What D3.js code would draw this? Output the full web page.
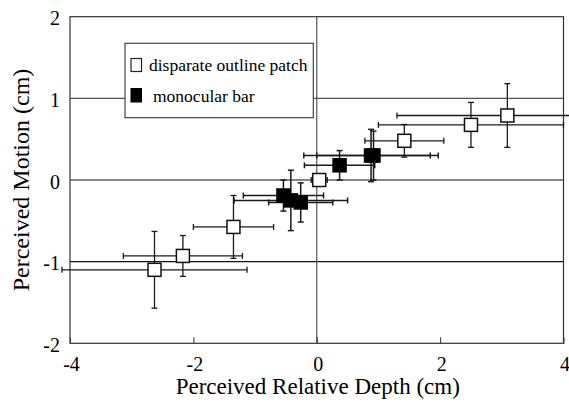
<!DOCTYPE html>
<html><head><meta charset="utf-8">
<script src="https://cdn.jsdelivr.net/npm/d3@7"></script>
<style>body{margin:0;background:#fff}svg{display:block}</style>
</head><body>
<svg id="c" width="569" height="406"></svg>
<script>
// Disparate outline patch (open squares)
const patchX    = [-2.63, -2.17, -1.35, 0.04, 1.42, 2.50, 3.09];
const patchY    = [-1.10, -0.93, -0.575, 0.00, 0.48, 0.675, 0.79];
const patchXErr = [1.50, 0.965, 0.65, 0.13, 0.64, 1.50, 1.79];
const patchYErr = [0.47, 0.25, 0.385, 0.04, 0.20, 0.275, 0.39];
// Monocular bar (filled squares)
const barX    = [-0.54, -0.42, -0.26, 0.37, 0.88, 0.92];
const barY    = [-0.19, -0.25, -0.275, 0.18, 0.30, 0.30];
const barXErr = [0.65, 0.92, 0.52, 0.57, 1.09, 0.92];
const barYErr = [0.19, 0.37, 0.24, 0.18, 0.32, 0.30];

const xTicks = [-4, -2, 0, 2, 4];
const yTicks = [-2, -1, 0, 1, 2];
const xTitle = "Perceived Relative Depth (cm)";
const yTitle = "Perceived Motion (cm)";
const legendLabels = ["disparate outline patch", "monocular bar"];

const FONT = '"Liberation Serif"';
const svg = d3.select("#c");
const L = 70, R = 563.5, T = 16.7, B = 343.3;
const x = d3.scaleLinear().domain([-4, 4]).range([L, R]);
const y = d3.scaleLinear().domain([-2, 2]).range([B, T]);
const fmt = d => d < 0 ? "-" + Math.abs(d) : String(d);

// gridlines
svg.append("g").selectAll("line").data([-1, 0, 1]).join("line")
  .attr("x1", L).attr("x2", R).attr("y1", d => y(d)).attr("y2", d => y(d))
  .attr("stroke", d => d === 1 ? "#555" : "#111").attr("stroke-width", 1.2);
svg.append("line").attr("x1", x(0)).attr("x2", x(0)).attr("y1", T).attr("y2", B)
  .attr("stroke", "#555").attr("stroke-width", 1.2);

// axes (inward ticks)
const gx = svg.append("g").attr("transform", `translate(0,${B})`)
  .call(d3.axisBottom(x).tickValues(xTicks).tickSize(-6).tickPadding(0).tickFormat(fmt));
gx.select(".domain").remove();
gx.attr("font-family", null).attr("font-size", null);
gx.selectAll("line").attr("stroke", "#333");
gx.selectAll("text").attr("x", 1).attr("y", 28).attr("dy", null)
  .style("font-family", FONT).style("font-size", "20px").style("fill", "#000");

const gy = svg.append("g").attr("transform", `translate(${L},0)`)
  .call(d3.axisLeft(y).tickValues(yTicks).tickSize(0).tickPadding(10).tickFormat(fmt));
gy.select(".domain").remove();
gy.attr("font-family", null).attr("font-size", null);
gy.selectAll("text").attr("dy", "0.4em")
  .style("font-family", FONT).style("font-size", "20px").style("fill", "#000");

// frame
svg.append("rect").attr("x", L).attr("y", T).attr("width", R - L).attr("height", B - T)
  .attr("fill", "none").attr("stroke", "#333").attr("stroke-width", 1.2);

// titles
svg.append("text").attr("x", (L + R) / 2 + 1).attr("y", 394).attr("text-anchor", "middle")
  .style("font-family", FONT).style("font-size", "23px").text(xTitle);
svg.append("text").attr("transform", `translate(28.5,${(T + B) / 2}) rotate(-90)`)
  .attr("text-anchor", "middle")
  .style("font-family", FONT).style("font-size", "24px").text(yTitle);

// legend
const lg = svg.append("g");
lg.append("rect").attr("x", 125).attr("y", 43.3).attr("width", 188.3).attr("height", 74.4)
  .attr("fill", "#fff").attr("stroke", "#444").attr("stroke-width", 1.2);
lg.append("rect").attr("x", 131).attr("y", 58.5).attr("width", 10.5).attr("height", 13)
  .attr("fill", "#fff").attr("stroke", "#222").attr("stroke-width", 1.2);
lg.append("rect").attr("x", 131).attr("y", 88.5).attr("width", 10.5).attr("height", 13.5)
  .attr("fill", "#000").attr("stroke", "#000").attr("stroke-width", 1);
lg.append("text").attr("x", 149).attr("y", 70.5)
  .style("font-family", FONT).style("font-size", "17.5px").text(legendLabels[0]);
lg.append("text").attr("x", 153).attr("y", 101.5)
  .style("font-family", FONT).style("font-size", "17.5px").text(legendLabels[1]);

// error bars
function errBars(xs, ys, xe, ye, width, color) {
  const g = svg.append("g").attr("stroke", color).attr("stroke-width", width).attr("fill", "none");
  const cap = 3;
  xs.forEach((xv, i) => {
    const cx = x(xv), cy = y(ys[i]);
    const x0 = x(xv - xe[i]), x1 = x(xv + xe[i]);
    const y0 = y(ys[i] - ye[i]), y1 = y(ys[i] + ye[i]);
    g.append("line").attr("x1", x0).attr("x2", x1).attr("y1", cy).attr("y2", cy);
    g.append("line").attr("x1", x0).attr("x2", x0).attr("y1", cy - cap).attr("y2", cy + cap);
    g.append("line").attr("x1", x1).attr("x2", x1).attr("y1", cy - cap).attr("y2", cy + cap);
    g.append("line").attr("x1", cx).attr("x2", cx).attr("y1", y0).attr("y2", y1);
    g.append("line").attr("x1", cx - cap).attr("x2", cx + cap).attr("y1", y0).attr("y2", y0);
    g.append("line").attr("x1", cx - cap).attr("x2", cx + cap).attr("y1", y1).attr("y2", y1);
  });
}
errBars(patchX, patchY, patchXErr, patchYErr, 1.3, "#1a1a1a");
errBars(barX, barY, barXErr, barYErr, 1.5, "#1a1a1a");

const S = 13;
svg.append("g").selectAll("rect").data(d3.range(patchX.length)).join("rect")
  .attr("x", i => x(patchX[i]) - S / 2).attr("y", i => y(patchY[i]) - S / 2)
  .attr("width", S).attr("height", S)
  .attr("fill", "#fff").attr("stroke", "#111").attr("stroke-width", 1.5);
svg.append("g").selectAll("rect").data(d3.range(barX.length)).join("rect")
  .attr("x", i => x(barX[i]) - S / 2).attr("y", i => y(barY[i]) - S / 2)
  .attr("width", S).attr("height", S)
  .attr("fill", "#000").attr("stroke", "#000").attr("stroke-width", 1.5);
</script>
</body></html>
